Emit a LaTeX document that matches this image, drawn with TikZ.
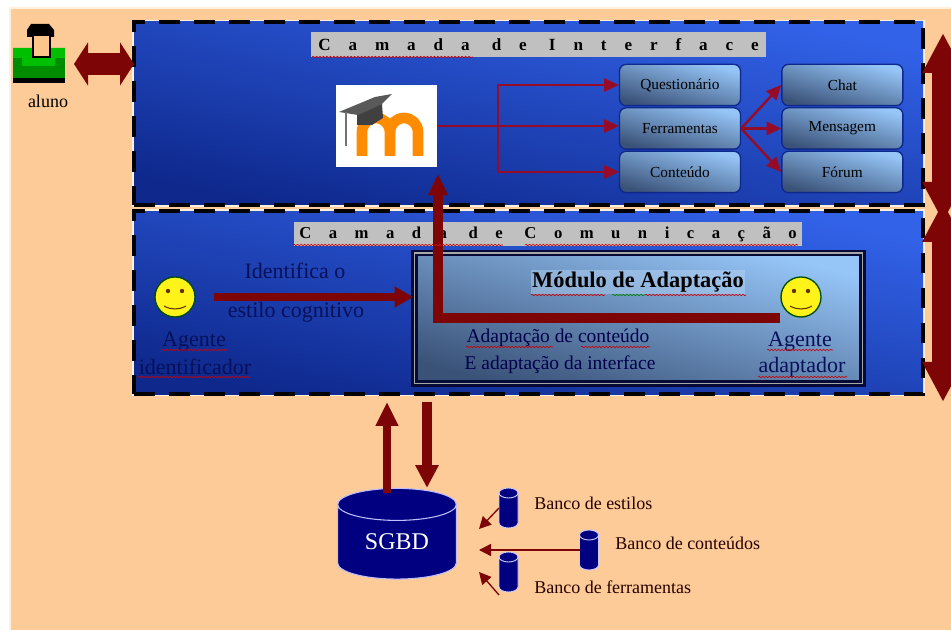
\documentclass[tikz,border=0pt]{standalone}
\usepackage{fontspec}
\setmainfont{Liberation Serif}
\newfontfamily\spacedfont[LetterSpace=105]{Liberation Serif}
\usepackage{xcolor}
\usepackage{tikz}
\usetikzlibrary{arrows.meta, positioning, shapes.geometric, decorations.pathmorphing}
\definecolor{pessego}{RGB}{253,203,151}
\definecolor{creme}{RGB}{255,240,220}
\definecolor{azulclaro}{RGB}{50,98,232}
\definecolor{azulescuro}{RGB}{14,40,140}
\definecolor{azultinta}{RGB}{8,16,90}
\definecolor{marinho}{RGB}{0,0,128}
\definecolor{vinho}{RGB}{125,5,5}
\definecolor{vermelhinho}{RGB}{150,12,40}
\definecolor{cinzinha}{RGB}{192,192,192}
\definecolor{caixaclara}{RGB}{150,198,248}
\definecolor{caixaescura}{RGB}{58,82,120}
\tikzset{>=stealth,
  camada/.style={minimum width=591.75pt, minimum height=137.25pt, top color=azulclaro, bottom color=azulescuro, shading angle=-12,
    draw=black, line width=3pt, dash pattern=on 15.5pt off 10.75pt, outer sep=0pt,
    preaction={draw=creme, solid, line width=3pt}},
  titulo/.style={fill=cinzinha, inner sep=0pt, minimum height=18.5pt},
  caixa/.style={rounded corners=5pt, minimum width=90.75pt, minimum height=31pt, top color=caixaclara, bottom color=caixaescura,
    shading angle=-15, draw=azulescuro, line width=1pt, inner sep=0pt, font=\fontsize{11.5}{13}\selectfont, text=black},
  rosto/.style={circle, minimum size=30pt, inner sep=0pt, fill=yellow!90!white, draw=black!70!green, line width=1pt},
  rotulo/.style={inner sep=0pt, text=azultinta, font=\fontsize{16.5}{18}\selectfont},
  rotulomod/.style={inner sep=0pt, text=black!70!blue, font=\fontsize{14.6}{17}\selectfont},
  banco/.style={minimum width=14.25pt, minimum height=22.5pt, inner sep=0pt, outer sep=0pt},
  textobanco/.style={anchor=west, inner sep=0pt, text=black!85!red, font=\fontsize{13.5}{15}\selectfont},
  setafina/.style={-{Triangle[length=11pt,width=10pt]}, draw=vermelhinho, line width=1.2pt},
  setabanco/.style={-{Triangle[length=9pt,width=9pt]}, draw=vinho, line width=1pt},
  setadupla/.style={{Triangle[length=10.5pt,width=32pt]}-{Triangle[length=10.5pt,width=32pt]}, draw=vinho, line width=16.5pt},
  setalateral/.style={{Triangle[length=30pt,width=29pt]}-{Triangle[length=30pt,width=29pt]}, draw=vinho, line width=16.5pt},
  sublinhado/.style={draw=red!80!black, line width=.45pt, decorate, decoration={snake, amplitude=.55pt, segment length=2.6pt}}
}

\begin{document}
\begin{tikzpicture}[x=.75pt, y=-.75pt]
  \useasboundingbox (0,0) rectangle (951,630);
  \clip (0,0) rectangle (951,630);
  \fill[white] (0,0) rectangle (951,630);
  \draw[fill=pessego, draw=creme, line width=1.5pt] (10,8) rectangle (960,640);

  % camadas
  \node[camada] (interface) at (528.5,113.5) {};
  \node[camada] (comunicacao) at (528.5,303) {};
  \node[titulo, minimum width=341pt, font=\fontsize{12.8}{14}\selectfont\bfseries\spacedfont] (tituloi) at (538.5,44.5) {Camada de Interface};
  \node[titulo, minimum width=381pt, font=\fontsize{12.5}{14}\selectfont\bfseries\spacedfont] (tituloc) at (548,234) {Camada de Comunicação};

  % aluno
  \fill[black] (13,76) rectangle (65,83);
  \fill[green!55!black] (13,48) rectangle (65,78);
  \fill[green!75!black] (13,48) -- (33,48) -- (36,58) -- (47,58) -- (50,48) -- (65,48) -- (65,58) -- (55,58) -- (55,66) -- (22,66) -- (22,58) -- (13,58) -- cycle;
  \fill[black] (27,30) -- (31,24) -- (49,24) -- (54,30) -- (54,37) -- (27,37) -- cycle;
  \fill[black] (32,36) rectangle (51,58);
  \fill[orange!45!white] (34,36) rectangle (49,56);
  \node[inner sep=0pt, font=\fontsize{13.5}{15}\selectfont, text=black] (aluno) at (48,101) {aluno};
  \coordinate (alunoseta) at (74,64);
  \draw[setadupla] (alunoseta) -- (alunoseta -| interface.west);

  % logo
  \node[fill=white, minimum width=75.75pt, minimum height=61.5pt, inner sep=0pt] (moodle) at (386.5,126) {};
  \draw[line width=8pt, orange!90!yellow] (362,156) -- (362,132) arc[start angle=180, end angle=360, radius=14] -- (390,156);
  \draw[line width=8pt, orange!90!yellow] (390,132) arc[start angle=180, end angle=360, radius=14] -- (418,156);
  \fill[black!75] (357,112) -- (382,104) -- (383,118) -- (372,125) -- (357,125) -- cycle;
  \fill[black!65] (339,112) -- (375,97) -- (392,94) -- (382,104) -- (358,115) -- cycle;
  \draw[black!55, line width=1.2pt] (346,112) -- (346,146);

  % caixas
  \node[caixa] (quest) at (680,85) {Questionário};
  \node[caixa, below=.6pt of quest] (ferr) {Ferramentas};
  \node[caixa, below=.6pt of ferr] (cont) {Conteúdo};
  \node[caixa, right=30pt of quest] (chat) {Chat};
  \node[caixa, below=.6pt of chat] (msg) {Mensagem};
  \node[caixa, below=.6pt of msg] (forum) {Fórum};

  \coordinate (ramo) at (498,126);
  \draw[setafina] (moodle.east |- ramo) -- (ferr.west |- ramo);
  \draw[setafina] (ramo) -- (ramo |- quest.west) -- (quest.west);
  \draw[setafina] (ramo) -- (ramo |- cont.west) -- (cont.west);
  \draw[setafina, line width=1.8pt] (ferr.east) -- (chat.west);
  \draw[setafina, line width=1.8pt] (ferr.east) -- (msg.west);
  \draw[setafina, line width=1.8pt] (ferr.east) -- (forum.west);

  % modulo
  \node[minimum width=336pt, minimum height=98pt, inner sep=0pt, top color=caixaclara, bottom color=caixaescura, shading angle=-15,
    draw=azultinta!60!black, line width=2pt, double=gray!70!white, double distance=1pt] (modulo) at (638.5,318.5) {};
  \node[inner sep=1pt, fill=white!40!caixaclara, fill opacity=.4, text opacity=1, font=\fontsize{16.8}{18}\selectfont\bfseries, text=black] (modulotit) at (638,282) {Módulo de Adaptação};
  \node[rotulomod] (adapt1) at (558,338) {Adaptação de conteúdo};
  \node[rotulomod] (adapt2) at (560,365) {E adaptação da interface};

  % agentes
  \node[rosto] (agenteid) at (175,297) {};
  \node[rosto] (agentead) at (801,297) {};
  \foreach \rosto in {agenteid, agentead} {
    \fill[black!60!orange] ([shift={(-7,-6)}]\rosto.center) circle[radius=2.2];
    \fill[black!60!orange] ([shift={(7,-6)}]\rosto.center) circle[radius=2.2];
    \draw[black!60!orange, line width=.8pt] ([shift={(-11,9)}]\rosto.center) .. controls ([shift={(-4,13)}]\rosto.center) and ([shift={(4,13)}]\rosto.center) .. ([shift={(11,9)}]\rosto.center);
  }
  \node[rotulo] (idlabel1) at (194,342) {Agente};
  \node[rotulo] (idlabel2) at (195,367) {identificador};
  \node[rotulo] (adlabel1) at (800,342) {Agente};
  \node[rotulo] (adlabel2) at (802,367) {adaptador};
  \node[rotulo] (identifica1) at (295,271) {Identifica o};
  \node[rotulo] (identifica2) at (296,312) {estilo cognitivo};

  % setas do agente
  \coordinate (saidaid) at (214,297);
  \draw[-{Triangle[length=14pt,width=15pt]}, draw=vinho, line width=6pt] (saidaid) -- (saidaid -| modulo.west);
  \coordinate (saidaad) at (780,318);
  \coordinate (dobra) at (438,318);
  \draw[-{Triangle[length=16pt,width=14pt]}, draw=vinho, line width=7pt] (saidaad) -- (dobra) -- ([yshift=-5pt]dobra |- moodle.south);

  % laterais
  \coordinate (lat1a) at (943,33);
  \coordinate (lat1b) at (943,222);
  \coordinate (lat2a) at (943,202);
  \coordinate (lat2b) at (943,402);
  \draw[setalateral] (lat1a) -- (lat1b);
  \draw[setalateral] (lat2a) -- (lat2b);

  % banco
  \node[cylinder, shape border rotate=90, aspect=.5, minimum width=89pt, minimum height=68pt, inner sep=0pt,
    cylinder uses custom fill, cylinder body fill=marinho, cylinder end fill=marinho, draw=white!75!blue, line width=.8pt,
    text=white, font=\fontsize{18}{20}\selectfont] (sgbd) at (397,542) {\raisebox{-6pt}{SGBD}};
  \coordinate (sobe) at (387,402);
  \coordinate (desce) at (427,402);
  \draw[-{Triangle[length=18pt,width=16pt]}, draw=vinho, line width=6.5pt] ([yshift=-4pt]sobe |- sgbd.north) -- (sobe);
  \draw[-{Triangle[length=17pt,width=16.5pt]}, draw=vinho, line width=8pt] (desce) -- (desce |- sgbd.north);

  \node[banco] (bestilos) at (508.5,508) {};
  \node[banco] (bcont) at (589,550) {};
  \node[banco] (bferr) at (508.5,572) {};
  \foreach \banco in {bestilos, bcont, bferr} {
    \draw[fill=marinho, draw=white!80!blue, line width=.7pt] (\banco.north west) -- (\banco.south west)
      arc[start angle=180, end angle=0, x radius=9.5, y radius=5] -- (\banco.north east)
      arc[start angle=360, end angle=180, x radius=9.5, y radius=5] -- cycle;
    \draw[draw=white!80!blue, line width=.7pt] (\banco.north west) arc[start angle=180, end angle=0, x radius=9.5, y radius=5];
  }
  \node[textobanco] (testilos) at (534,503) {Banco de estilos};
  \node[textobanco] (tcont) at (615,543) {Banco de conteúdos};
  \node[textobanco] (tferr) at (534,587) {Banco de ferramentas};
  \coordinate (entra1) at (479,529);
  \coordinate (entra2) at (479,550);
  \coordinate (entra3) at (479,572);
  \draw[setabanco] (bestilos.west) -- (entra1);
  \draw[setabanco] (bcont.west) -- (entra2);
  \draw[setabanco] ([yshift=-6pt]bferr.south west) -- (entra3);

  % sublinhados do corretor
  \foreach \ini/\fim/\alt in {312/473/57, 293/503/245, 525/798/245, 162/227/350, 138/250/377, 767/833/350, 758/847/377, 531/605/295, 645/746/295, 466/553/347, 581/650/347}
    \draw[sublinhado] (\ini,\alt) -- (\fim,\alt);
  \draw[sublinhado, draw=green!50!black] (612,295) -- (645,295);
\end{tikzpicture}
\end{document}
